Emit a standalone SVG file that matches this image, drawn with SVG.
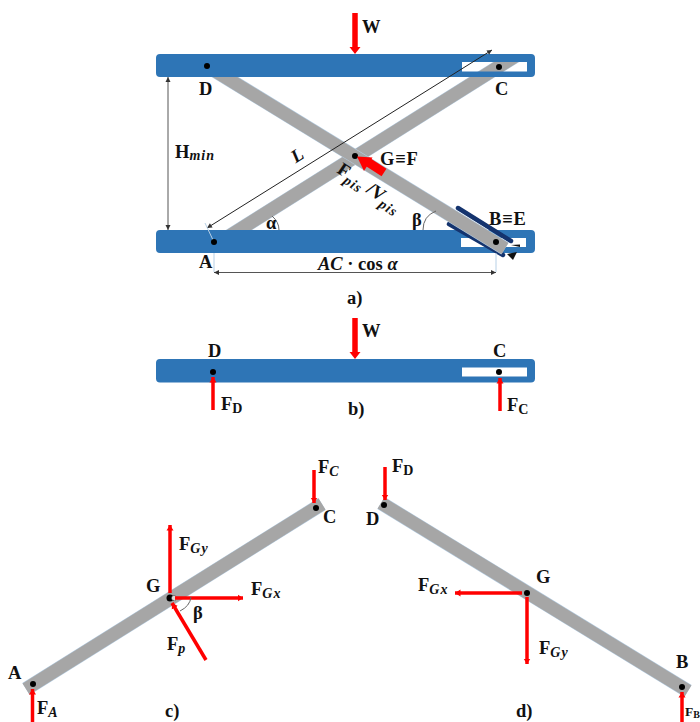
<svg xmlns="http://www.w3.org/2000/svg" width="700" height="722" viewBox="0 0 700 722">
<style>
text{font-family:"Liberation Serif",serif;font-weight:bold;font-size:18.500px;fill:#111}
.i{font-style:italic}
.s{font-size:14px;letter-spacing:1px}
.bar{fill:#2e75b6;fill-rule:evenodd}
.link{stroke:#a6a6a6;stroke-width:13;fill:none}
.edge{stroke:#b3cbe0;stroke-width:14;fill:none}
.f{stroke:#f00;stroke-width:3.500;fill:none;marker-end:url(#h)}
.dot{fill:#000}
.dim{stroke:#555;stroke-width:1;fill:none;marker-start:url(#d0);marker-end:url(#d)}
.ext{stroke:#b7d0e6;stroke-width:1;fill:none}
.arc{stroke:#666;stroke-width:1;fill:none}
.navy{stroke:#14336e;stroke-width:4.500;stroke-linecap:round;fill:none}
</style>
<defs>
<marker id="h" markerUnits="userSpaceOnUse" markerWidth="8" markerHeight="8" refX="5.500" refY="4" orient="auto"><path d="M0 0.500L5.500 4L0 7.500z" fill="#f00"/></marker>
<marker id="d" markerUnits="userSpaceOnUse" markerWidth="6" markerHeight="6" refX="5" refY="3" orient="auto"><path d="M0 0.500L5 3L0 5.500z" fill="#333"/></marker>
<marker id="d0" markerUnits="userSpaceOnUse" markerWidth="6" markerHeight="6" refX="0" refY="3" orient="auto"><path d="M5 0.500L0 3L5 5.500z" fill="#333"/></marker>
<clipPath id="below-top"><rect x="0" y="60" width="700" height="300"/></clipPath>
</defs>

<g id="fig-a">
<g id="link-AC" clip-path="url(#below-top)"><path class="edge" d="M214 245.700L530 47"/><path class="link" d="M214 245.700L530 47"/></g>
<g id="bar-bottom"><path class="bar" d="M160 230H531a4 4 0 0 1 4 4V249a4 4 0 0 1-4 4H160a4 4 0 0 1-4-4V234a4 4 0 0 1 4-4zM461 238V247H526V238z"/></g>
<path class="navy" d="M458 208L511 241"/>
<path class="navy" d="M449 224L503 255"/>
<g id="link-DB"><path class="edge" d="M207 66L505 248.500"/><path class="link" d="M207 66L505 248.500"/></g>
<g id="bar-top"><path class="bar" d="M160 54H531a4 4 0 0 1 4 4V73a4 4 0 0 1-4 4H160a4 4 0 0 1-4-4V58a4 4 0 0 1 4-4zM462 62V71.500H527V62z"/></g>
<path d="M507 254L517 252L513 260z" fill="#111"/>
<path d="M511 245L520 244.500L520 247z" fill="#111"/>
<g id="connectors-a">
<path class="dim" d="M168 77V230"/>
<path class="dim" style="stroke:#222" d="M207 228L492 50"/>
<path class="dim" d="M214 272.500H496"/>
<path class="ext" d="M214 253V272M496 253V272M205 223L213 240"/>
<path class="arc" d="M272 216Q279 222 279 230"/>
<path class="arc" d="M423 230Q423 216 436 211"/>
</g>
<circle class="dot" cx="207" cy="66" r="3"/>
<circle class="dot" cx="499" cy="67" r="3"/>
<circle class="dot" cx="214" cy="242" r="3"/>
<circle class="dot" cx="496" cy="242" r="3"/>
<circle class="dot" cx="355" cy="156" r="3"/>
<path d="M355 13V48" stroke="#f00" stroke-width="5.500" fill="none"/><path d="M349.500 47H360.500L355 54z" fill="#f00"/>
<path d="M384 172.500L367 161.500" stroke="#f00" stroke-width="9" fill="none"/><path d="M357 156.500L372.500 157.500L364 171z" fill="#f00"/>
<text x="362" y="33">W</text>
<text x="199" y="95">D</text>
<text x="495" y="95">C</text>
<text x="175" y="158">H<tspan class="i s" dy="2">min</tspan></text>
<text x="293" y="162" transform="rotate(-33 297 158)" class="i">L</text>
<text x="380" y="165" style="letter-spacing:.8px">G≡F</text>
<text x="336" y="172" transform="rotate(34 336 172)">F<tspan class="i s" dy="5">pis</tspan><tspan dy="-5"> /V</tspan><tspan class="i s" dy="5">pis</tspan></text>
<text x="266" y="229">α</text>
<text x="412" y="226">β</text>
<text x="489" y="225" style="letter-spacing:.8px">B≡E</text>
<text x="199" y="268">A</text>
<text x="318" y="270" class="i">AC <tspan style="font-style:normal">· cos</tspan> α</text>
<text x="347" y="304">a)</text>
</g>

<g id="fig-b">
<g id="bar-b"><path class="bar" d="M160 359H531a4 4 0 0 1 4 4V378.500a4 4 0 0 1-4 4H160a4 4 0 0 1-4-4V363a4 4 0 0 1 4-4zM462 367.500V376.500H527V367.500z"/></g>
<circle class="dot" cx="213" cy="372" r="3"/>
<circle class="dot" cx="499" cy="372" r="3"/>
<path d="M355 318V353" stroke="#f00" stroke-width="5.500" fill="none"/><path d="M349.500 352H360.500L355 359z" fill="#f00"/>
<path class="f" d="M213 410V377"/>
<path class="f" d="M500 411V378"/>
<text x="362" y="337">W</text>
<text x="208" y="357">D</text>
<text x="493" y="357">C</text>
<text x="221" y="410">F<tspan class="s" dy="3">D</tspan></text>
<text x="507" y="411">F<tspan class="s" dy="3">C</tspan></text>
<text x="348" y="415">b)</text>
</g>

<g id="fig-c">
<g id="link-c"><path class="edge" d="M26 689L322 504"/><path class="link" d="M26 689L322 504"/></g>
<circle class="dot" cx="33" cy="684" r="3"/>
<circle class="dot" cx="316" cy="508" r="3"/>
<circle class="dot" cx="170" cy="598" r="3.500"/>
<circle cx="174" cy="598" r="2.500" fill="#ddd" stroke="#333" stroke-width="1" stroke-dasharray="1 1"/>
<path class="f" d="M314 470V503"/>
<path class="f" d="M32.500 722V689"/>
<path class="f" d="M170 593V525"/>
<path class="f" d="M175 598H243"/>
<path class="f" d="M206 660L172 603"/>
<path class="arc" d="M191 597Q190 606 180 611"/>
<text x="318" y="473">F<tspan class="i s" dy="3">C</tspan></text>
<text x="323" y="523">C</text>
<text x="8" y="679">A</text>
<text x="37" y="714">F<tspan class="i s" dy="3">A</tspan></text>
<text x="165" y="717">c)</text>
<text x="146" y="592">G</text>
<text x="179" y="550">F<tspan class="i s" dy="3">Gy</tspan></text>
<text x="251" y="595">F<tspan class="i s" dy="3">Gx</tspan></text>
<text x="193" y="619">β</text>
<text x="167" y="650">F<tspan class="i s" dy="3">p</tspan></text>
</g>

<g id="fig-d">
<g id="link-d"><path class="edge" d="M381 503L688 691"/><path class="link" d="M381 503L688 691"/></g>
<circle class="dot" cx="384" cy="505" r="3"/>
<circle class="dot" cx="682" cy="687" r="3"/>
<circle class="dot" cx="527" cy="593" r="3"/>
<path class="f" d="M385 467V500"/>
<path class="f" d="M682 722V692"/>
<path class="f" d="M522 593H455"/>
<path class="f" d="M527 597V664"/>
<text x="392" y="472">F<tspan class="s" dy="3">D</tspan></text>
<text x="366" y="525">D</text>
<text x="536" y="583">G</text>
<text x="676" y="668">B</text>
<text x="685" y="716" style="font-size:13.500px">F<tspan style="font-size:10px" dy="2">B</tspan></text>
<text x="418" y="591">F<tspan class="i s" dy="3">Gx</tspan></text>
<text x="539" y="654">F<tspan class="i s" dy="3">Gy</tspan></text>
<text x="516" y="717">d)</text>
</g>
</svg>
